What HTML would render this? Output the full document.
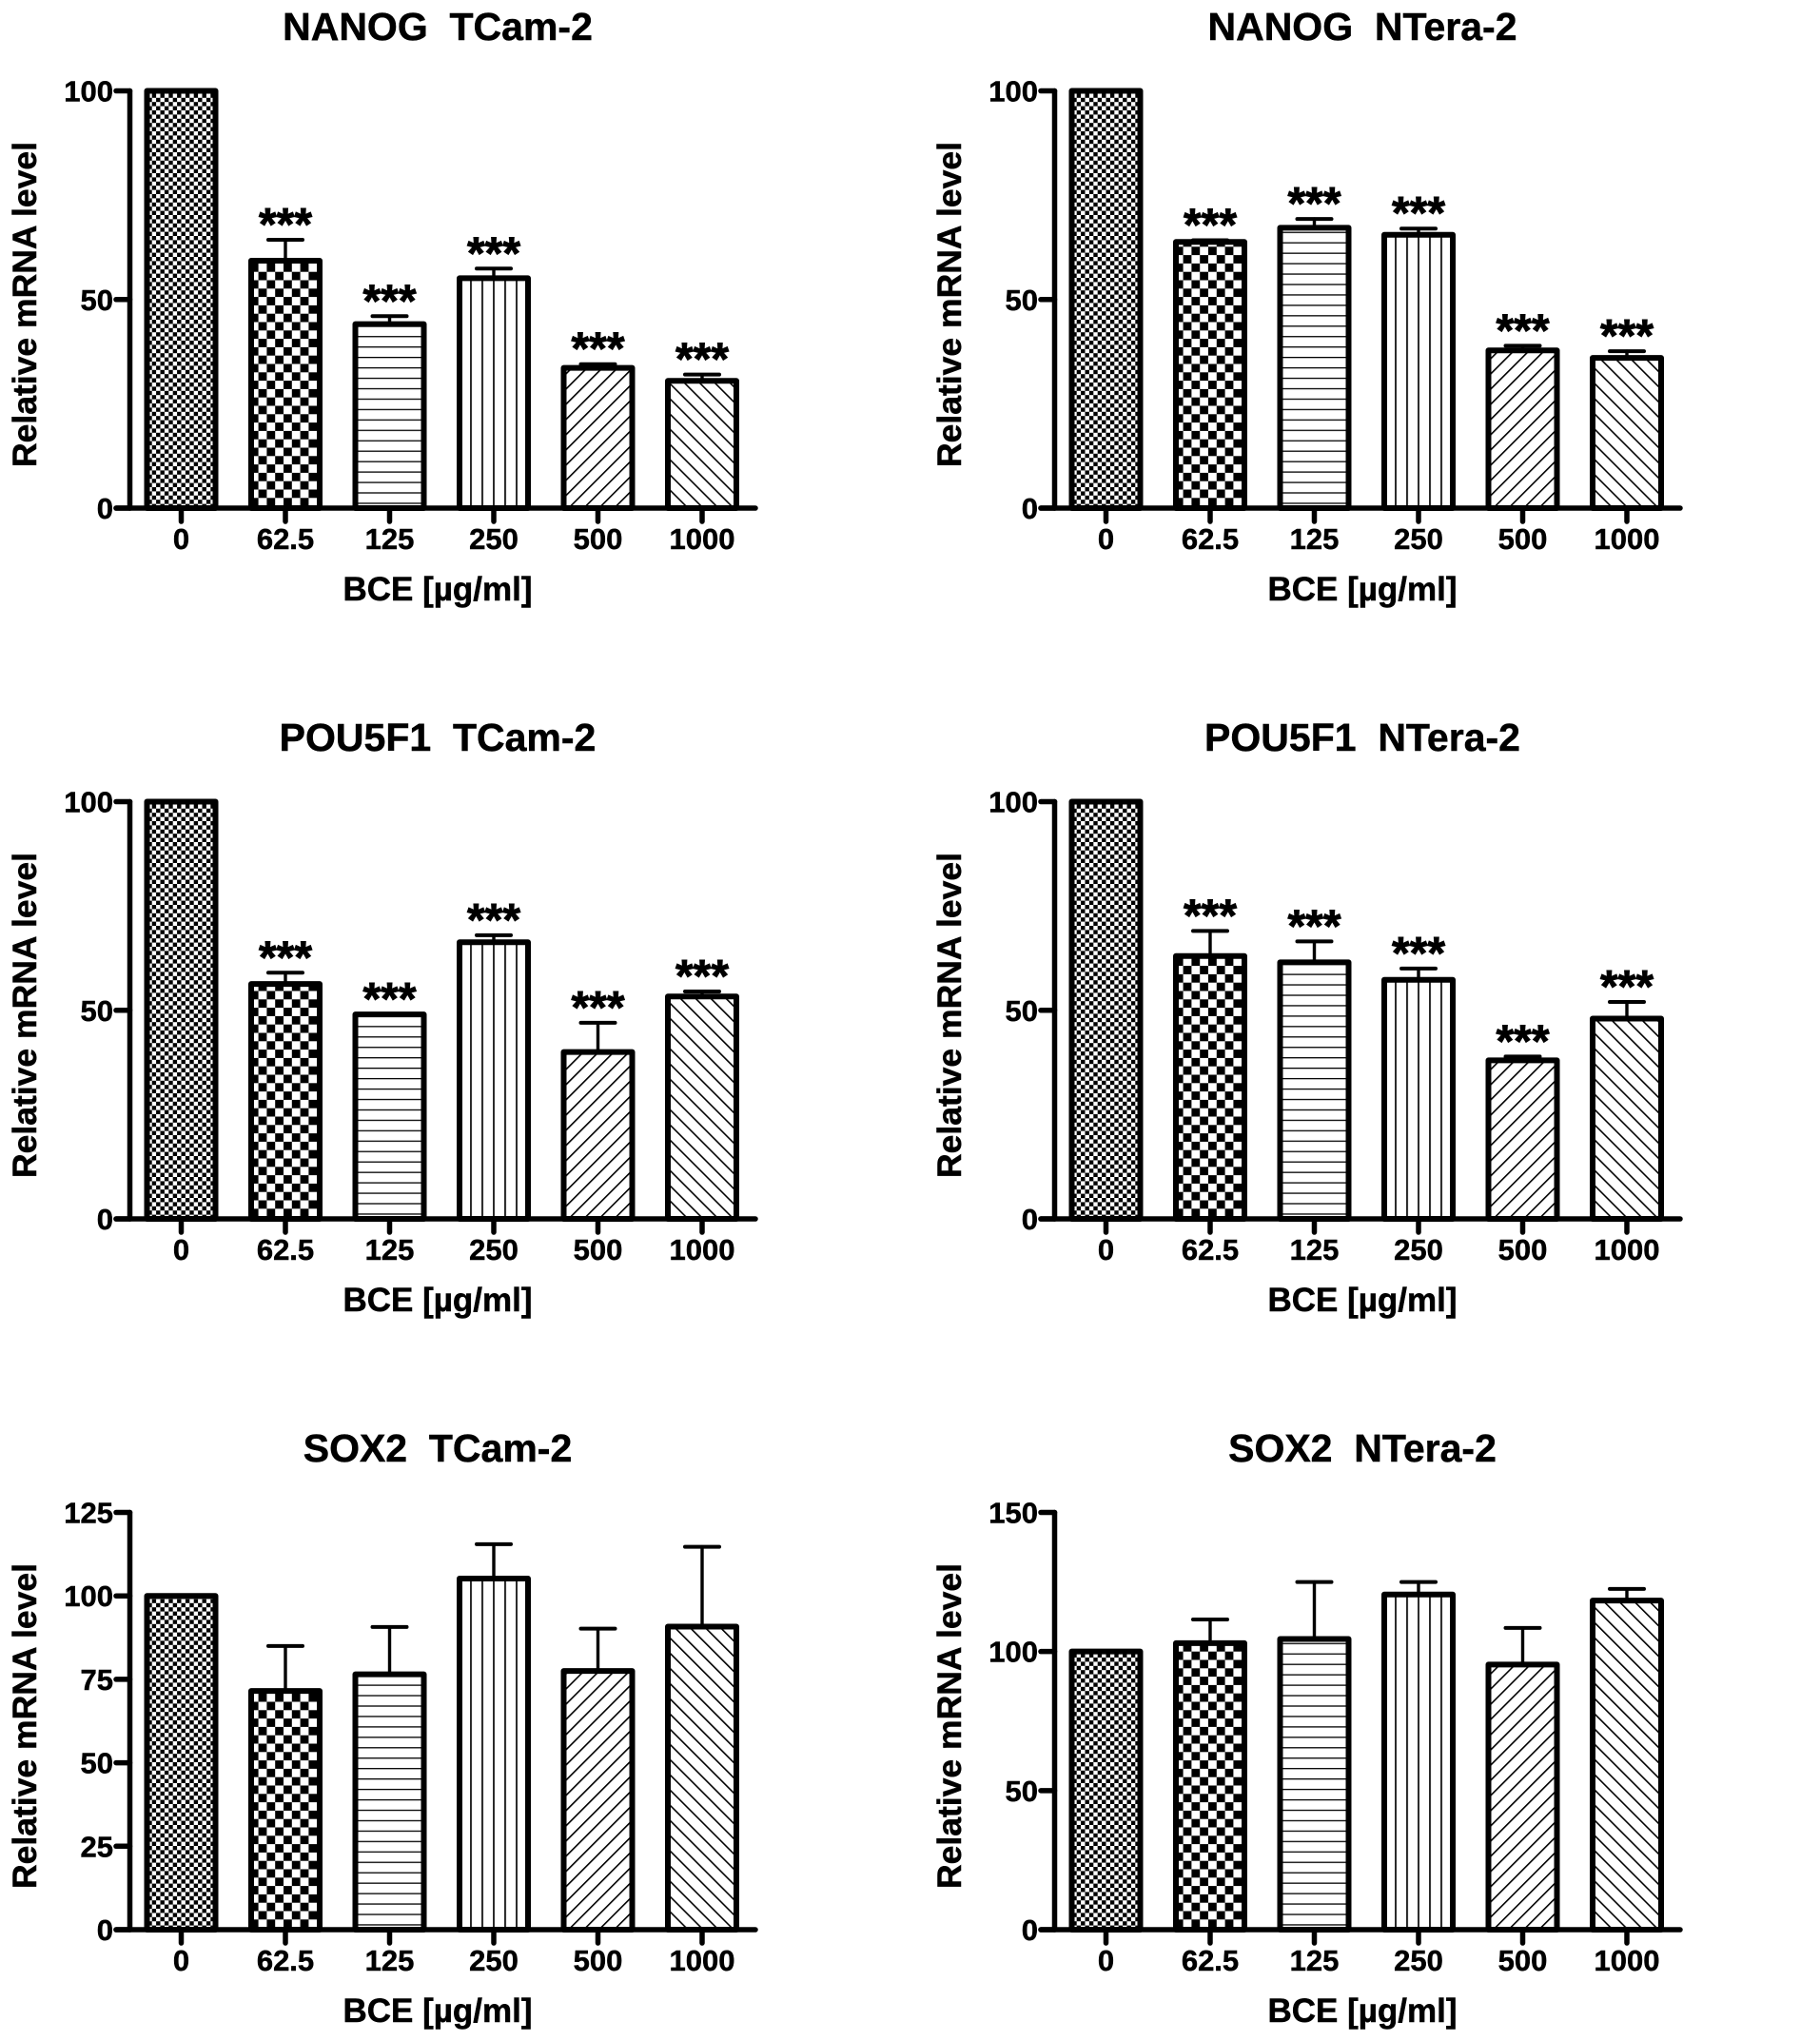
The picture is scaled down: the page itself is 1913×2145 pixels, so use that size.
<!DOCTYPE html>
<html lang="en">
<head>
<meta charset="utf-8">
<title>Relative mRNA level charts</title>
<style>
  html, body { margin: 0; padding: 0; background: #fff; }
  svg { display: block; }
  text { font-family: "Liberation Sans", Arial, sans-serif; font-weight: bold; fill: #000; stroke: #000; stroke-width: 0.5px; white-space: pre; }
</style>
</head>
<body>
<svg id="figure" xmlns="http://www.w3.org/2000/svg" width="1913" height="2145" viewBox="0 0 1913 2145">
  <defs>
    <pattern id="p-fine" patternUnits="userSpaceOnUse" width="8.8" height="8.8">
      <rect width="8.8" height="8.8" fill="#fff"/>
      <rect x="0" y="0" width="4.4" height="4.4" fill="#000"/>
      <rect x="4.4" y="4.4" width="4.4" height="4.4" fill="#000"/>
    </pattern>
    <pattern id="p-coarse" patternUnits="userSpaceOnUse" width="17.6" height="17.6" patternTransform="translate(-2 6.9)">
      <rect width="17.6" height="17.6" fill="#fff"/>
      <rect x="0" y="0" width="8.8" height="8.8" fill="#000"/>
      <rect x="8.8" y="8.8" width="8.8" height="8.8" fill="#000"/>
    </pattern>
    <pattern id="p-horizontal" patternUnits="userSpaceOnUse" width="12" height="10.95" patternTransform="translate(0 -5.7)">
      <rect width="12" height="10.95" fill="#fff"/>
      <rect x="0" y="0" width="12" height="1.3" fill="#000"/>
    </pattern>
    <pattern id="p-vertical" patternUnits="userSpaceOnUse" width="12" height="12" patternTransform="translate(-0.85 0)">
      <rect width="12" height="12" fill="#fff"/>
      <rect x="0" y="0" width="1.7" height="12" fill="#000"/>
    </pattern>
    <pattern id="p-forward" patternUnits="userSpaceOnUse" width="11.3" height="11.3" patternTransform="rotate(45)">
      <rect width="11.3" height="11.3" fill="#fff"/>
      <rect x="0" y="0" width="1.6" height="11.3" fill="#000"/>
    </pattern>
    <pattern id="p-back" patternUnits="userSpaceOnUse" width="11.3" height="11.3" patternTransform="rotate(-45)">
      <rect width="11.3" height="11.3" fill="#fff"/>
      <rect x="0" y="0" width="1.6" height="11.3" fill="#000"/>
    </pattern>
  </defs>
</svg>
<script>
// ---- shared labels ----
const categories = ['0', '62.5', '125', '250', '500', '1000'];
const fillPatterns = ['p-fine', 'p-coarse', 'p-horizontal', 'p-vertical', 'p-forward', 'p-back'];
const yAxisTitle = 'Relative mRNA level';
const xAxisTitle = 'BCE [µg/ml]';
const starLabel = '***';

// ---- NANOG TCam-2 ----
const nanogTcamTicks = [0, 50, 100];
const nanogTcamValues = [100, 59.3, 44.1, 55.1, 33.6, 30.5];
const nanogTcamErrorTops = [100, 64.3, 46, 57.4, 34.5, 32];
const nanogTcamStars = [0, 1, 1, 1, 1, 1];

// ---- NANOG NTera-2 ----
const nanogNteraTicks = [0, 50, 100];
const nanogNteraValues = [100, 63.8, 67.2, 65.5, 37.8, 36];
const nanogNteraErrorTops = [100, 64.2, 69.3, 67, 38.9, 37.6];
const nanogNteraStars = [0, 1, 1, 1, 1, 1];

// ---- POU5F1 TCam-2 ----
const pouTcamTicks = [0, 50, 100];
const pouTcamValues = [100, 56.3, 49, 66.3, 40, 53.3];
const pouTcamErrorTops = [100, 59, 49, 68, 47, 54.5];
const pouTcamStars = [0, 1, 1, 1, 1, 1];

// ---- POU5F1 NTera-2 ----
const pouNteraTicks = [0, 50, 100];
const pouNteraValues = [100, 63, 61.5, 57.3, 38, 48];
const pouNteraErrorTops = [100, 69, 66.5, 60, 38.9, 52];
const pouNteraStars = [0, 1, 1, 1, 1, 1];

// ---- SOX2 TCam-2 ----
const soxTcamTicks = [0, 25, 50, 75, 100, 125];
const soxTcamValues = [100, 71.5, 76.5, 105.2, 77.5, 90.8];
const soxTcamErrorTops = [100, 85, 90.7, 115.5, 90.2, 114.7];
const soxTcamStars = [0, 0, 0, 0, 0, 0];

// ---- SOX2 NTera-2 ----
const soxNteraTicks = [0, 50, 100, 150];
const soxNteraValues = [100, 103, 104.5, 120.5, 95.3, 118.3];
const soxNteraErrorTops = [100, 111.5, 125, 125, 108.5, 122.5];
const soxNteraStars = [0, 0, 0, 0, 0, 0];

const SVG_NS = 'http://www.w3.org/2000/svg';
const figure = document.getElementById('figure');

function mk(parent, tag, attrs, content) {
  const el = document.createElementNS(SVG_NS, tag);
  for (const k in attrs) el.setAttribute(k, attrs[k]);
  if (content !== undefined) el.textContent = content;
  parent.appendChild(el);
  return el;
}

function drawPanel(slug, title, originX, baseY, ticks, values, errorTops, stars) {
  const plotHeight = 438.5;
  const maxTick = ticks[ticks.length - 1];
  const yScale = v => baseY - (v / maxTick) * plotHeight;
  const xScale = i => originX + 190.5 + 109.5 * i;
  const axisX = originX + 136.5;

  const panel = mk(figure, 'g', {});
  
  

  const titleEl = mk(panel, 'text', { x: originX + 460, y: baseY - 492, 'font-size': 41, 'text-anchor': 'middle' }, title);
  
  

  values.forEach((v, i) => {
    const cx = xScale(i);
    const barTop = yScale(v);
    const errTop = yScale(errorTops[i]);

    const errorBar = mk(panel, 'g', { stroke: '#000', 'stroke-linecap': 'round', fill: 'none' });
    
    
    if (errorTops[i] > v) {
      mk(errorBar, 'line', { x1: cx, x2: cx, y1: barTop, y2: errTop, 'stroke-width': 3.4 });
      mk(errorBar, 'line', { x1: cx - 18, x2: cx + 18, y1: errTop, y2: errTop, 'stroke-width': 4 });
    }

    const bar = mk(panel, 'rect', {
      transform: 'translate(' + cx + ' ' + baseY + ')',
      x: -36, y: barTop - baseY, width: 72, height: baseY - barTop,
      fill: 'url(#' + fillPatterns[i] + ')', stroke: '#000', 'stroke-width': 6, 'stroke-linejoin': 'round'
    });
    
    

    if (stars[i]) {
      const star = mk(panel, 'text', { x: cx, y: Math.min(errTop, barTop), 'font-size': 48, 'text-anchor': 'middle', style: 'stroke-width:0.9px' }, starLabel);
      
      
    }

    const xTick = mk(panel, 'line', { x1: cx, x2: cx, y1: baseY, y2: baseY + 14, stroke: '#000', 'stroke-width': 5.5, 'stroke-linecap': 'round' });
    
    

    const xLabel = mk(panel, 'text', { x: cx, y: baseY + 43, 'font-size': 31, 'text-anchor': 'middle' }, categories[i]);
    
    
  });

  const yAxis = mk(panel, 'line', { x1: axisX, x2: axisX, y1: yScale(maxTick), y2: baseY, stroke: '#000', 'stroke-width': 5.5, 'stroke-linecap': 'round' });
  
  

  const xAxis = mk(panel, 'line', { x1: originX + 122, x2: originX + 794, y1: baseY, y2: baseY, stroke: '#000', 'stroke-width': 5.5, 'stroke-linecap': 'round' });
  
  

  ticks.forEach(t => {
    const ty = yScale(t);
    const yTick = mk(panel, 'line', { x1: originX + 122, x2: axisX, y1: ty, y2: ty, stroke: '#000', 'stroke-width': 5.5, 'stroke-linecap': 'round' });
    
    

    const yLabel = mk(panel, 'text', { x: originX + 119, y: ty + 11, 'font-size': 31, 'text-anchor': 'end' }, String(t));
    
    
  });

  const yTitleEl = mk(panel, 'text', {
    transform: 'translate(' + (originX + 38) + ' ' + (baseY - 214) + ') rotate(-90)',
    x: 0, y: 0, 'font-size': 35.5, 'text-anchor': 'middle'
  }, yAxisTitle);
  
  

  const xTitleEl = mk(panel, 'text', { x: originX + 460, y: baseY + 97, 'font-size': 35, 'text-anchor': 'middle' }, xAxisTitle);
  
  
}

drawPanel('nanog-tcam', 'NANOG  TCam-2', 0, 534, nanogTcamTicks, nanogTcamValues, nanogTcamErrorTops, nanogTcamStars);
drawPanel('nanog-ntera', 'NANOG  NTera-2', 972, 534, nanogNteraTicks, nanogNteraValues, nanogNteraErrorTops, nanogNteraStars);
drawPanel('pou5f1-tcam', 'POU5F1  TCam-2', 0, 1281, pouTcamTicks, pouTcamValues, pouTcamErrorTops, pouTcamStars);
drawPanel('pou5f1-ntera', 'POU5F1  NTera-2', 972, 1281, pouNteraTicks, pouNteraValues, pouNteraErrorTops, pouNteraStars);
drawPanel('sox2-tcam', 'SOX2  TCam-2', 0, 2028, soxTcamTicks, soxTcamValues, soxTcamErrorTops, soxTcamStars);
drawPanel('sox2-ntera', 'SOX2  NTera-2', 972, 2028, soxNteraTicks, soxNteraValues, soxNteraErrorTops, soxNteraStars);
</script>
</body>
</html>
